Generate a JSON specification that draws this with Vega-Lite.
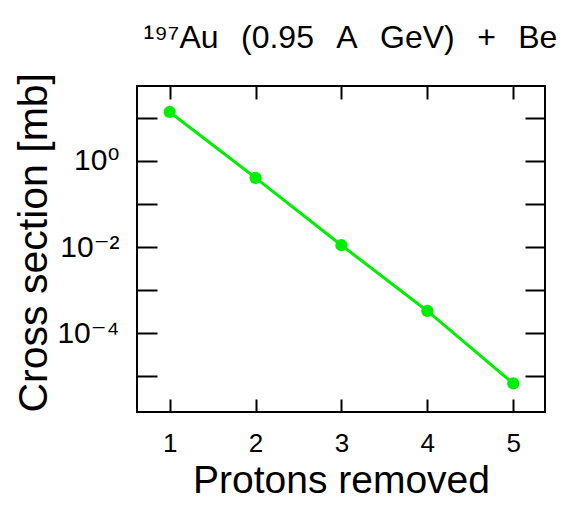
{
  "$schema": "https://vega.github.io/schema/vega-lite/v6.json",
  "width": 408,
  "height": 326,
  "autosize": {"type": "none"},
  "padding": {"left": 137, "top": 86, "right": 21, "bottom": 96},
  "background": "white",
  "config": {
    "view": {"stroke": "black", "strokeWidth": 2},
    "font": "Liberation Sans, DejaVu Sans, sans-serif",
    "axis": {"domain": false, "grid": false, "tickColor": "black", "tickWidth": 2, "labelColor": "black", "titleColor": "black", "labelFont": "Liberation Sans, DejaVu Sans, sans-serif", "titleFont": "Liberation Sans, DejaVu Sans, sans-serif", "titleFontWeight": "normal"}
  },
  "data": {
    "values": [
      {"protons": 1, "xs": 13.5},
      {"protons": 2, "xs": 0.40},
      {"protons": 3, "xs": 0.011},
      {"protons": 4, "xs": 0.00033},
      {"protons": 5, "xs": 0.0000069}
    ]
  },
  "resolve": {"axis": {"x": "independent", "y": "independent"}},
  "layer": [
    {
      "mark": {"type": "line", "color": "#00ee00", "strokeWidth": 3},
      "encoding": {
        "x": {"field": "protons", "type": "quantitative",
          "scale": {"domain": [0.62, 5.37], "nice": false, "zero": false},
          "axis": {"orient": "bottom", "values": [1, 2, 3, 4, 5], "tickSize": -13, "labelPadding": 31, "labelFontSize": 26, "labelFlush": false,
            "title": "Protons removed", "titleFontSize": 39, "titleBaseline": "alphabetic", "titleY": 80, "titleX": 204, "titleAlign": "center"}},
        "y": {"field": "xs", "type": "quantitative",
          "scale": {"type": "log", "domain": [0.0000015, 54], "nice": false},
          "axis": {"orient": "left", "values": [10, 1, 0.1, 0.01, 0.001, 0.0001, 0.00001], "tickSize": -20, "labelPadding": 38, "labelFontSize": 30, "labelFlush": false,
            "labelExpr": "abs(log(datum.value)/LN10) < 0.01 ? '10⁰' : abs(log(datum.value)/LN10 + 2) < 0.01 ? '10⁻²' : abs(log(datum.value)/LN10 + 4) < 0.01 ? '10⁻⁴' : ''",
            "title": "Cross section [mb]", "titleFontSize": 41, "titleAngle": -90, "titleAlign": "left", "titleBaseline": "alphabetic", "titleX": -91, "titleY": 326}}
      }
    },
    {
      "mark": {"type": "point", "filled": true, "color": "#00ee00", "size": 150, "opacity": 1},
      "encoding": {
        "x": {"field": "protons", "type": "quantitative",
          "axis": {"orient": "top", "values": [1, 2, 3, 4, 5], "tickSize": -13, "labels": false,
            "title": "¹⁹⁷Au\u2002\u2009(0.95\u2002\u2009A\u2002\u2009GeV)\u2002\u2009+\u2002\u2009Be", "titleFontSize": 32, "titleAlign": "left", "titleBaseline": "alphabetic", "titleX": 6, "titleY": -39, "titleAngle": 0}},
        "y": {"field": "xs", "type": "quantitative",
          "axis": {"orient": "right", "values": [10, 1, 0.1, 0.01, 0.001, 0.0001, 0.00001], "tickSize": -20, "labels": false, "title": null}}
      }
    }
  ]
}
